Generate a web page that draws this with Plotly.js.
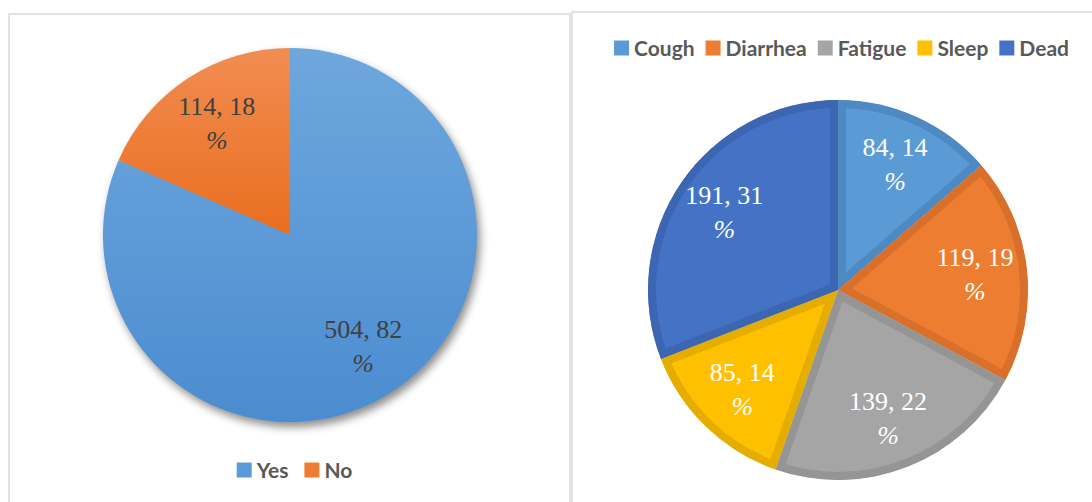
<!DOCTYPE html>
<html>
<head>
<meta charset="utf-8">
<script src="https://cdn.plot.ly/plotly-3.0.1.min.js"></script>
<style>
  html, body { margin: 0; padding: 0; background: #ffffff; overflow: hidden; }
  #chart { width: 1092px; height: 502px; }
</style>
</head>
<body>
<div id="chart"></div>
<script>
// ---- data ----
const leftLabels = ["Yes", "No"];
const leftValues = [504, 114];
const leftColors = ["#5b9bd7", "#ef7d31"];

const rightLabels = ["Cough", "Diarrhea", "Fatigue", "Sleep", "Dead"];
const rightValues = [84, 119, 139, 85, 191];
const rightColors = ["#5b9bd5", "#ed7d31", "#a5a5a5", "#ffc000", "#4472c4"];
const rightBorders = ["#4f89c1", "#d8702b", "#959595", "#e5ad00", "#3c66b1"];

function pct(vals) {
  const s = vals.reduce((a, b) => a + b, 0);
  return vals.map(v => Math.round(v / s * 100));
}

const labelFont = "Liberation Serif, Times New Roman, serif";
const legendFont = "Lato, Open Sans, sans-serif";
const leftDomain = { x: [0.0943, 0.4368], y: [0.1594, 0.9044] };
const rightDomain = { x: [0.5934, 0.9414], y: [0.0438, 0.8008] };
const tmpl = "%{value}, %{customdata}<br><i>%</i>";

const common = { type: "pie", sort: false, direction: "clockwise", rotation: 0, hoverinfo: "none" };

const traces = [
  Object.assign({}, common, {
    labels: leftLabels, values: leftValues,
    textposition: "none",
    marker: { colors: leftColors, line: { width: 0 } },
    domain: leftDomain, legend: "legend"
  }),
  Object.assign({}, common, {
    labels: rightLabels, values: rightValues,
    textposition: "none",
    marker: { colors: rightColors, line: { width: 8, color: rightBorders } },
    domain: rightDomain, legend: "legend2"
  }),
  // label layers (transparent ring so labels sit at ~3/4 of the radius)
  Object.assign({}, common, {
    labels: leftLabels, values: leftValues, customdata: pct(leftValues),
    texttemplate: tmpl, textposition: "inside", insidetextorientation: "horizontal",
    textfont: { family: labelFont, size: 26, color: "#404040" },
    marker: { colors: leftLabels.map(() => "rgba(0,0,0,0)"), line: { width: 0 } },
    hole: 0.43, showlegend: false, domain: leftDomain
  }),
  Object.assign({}, common, {
    labels: rightLabels, values: rightValues, customdata: pct(rightValues),
    texttemplate: tmpl, textposition: "inside", insidetextorientation: "horizontal",
    textfont: { family: labelFont, size: 26, color: "#ffffff" },
    marker: { colors: rightLabels.map(() => "rgba(0,0,0,0)"), line: { width: 0 } },
    hole: 0.45, showlegend: false, domain: rightDomain
  })
];

const legendStyle = { family: legendFont, size: 21, color: "#595959", weight: "bold" };

const layout = {
  width: 1092,
  height: 502,
  margin: { l: 0, r: 0, t: 0, b: 0, autoexpand: false },
  paper_bgcolor: "#ffffff",
  plot_bgcolor: "#ffffff",
  showlegend: true,
  legend: {
    orientation: "h", x: 0.2697, xanchor: "center", y: 0.0637, yanchor: "middle",
    font: legendStyle, itemwidth: 30, bgcolor: "rgba(0,0,0,0)"
  },
  legend2: {
    orientation: "h", x: 0.7706, xanchor: "center", y: 0.904, yanchor: "middle",
    font: legendStyle, itemwidth: 30, bgcolor: "rgba(0,0,0,0)"
  },
  shapes: [
    { type: "rect", xref: "paper", yref: "paper",
      x0: 9 / 1092, x1: 570 / 1092, y0: -0.02, y1: (502 - 14) / 502,
      line: { color: "#d9d9d9", width: 1.5 }, fillcolor: "rgba(0,0,0,0)" },
    { type: "rect", xref: "paper", yref: "paper",
      x0: 572 / 1092, x1: 1.02, y0: -0.02, y1: (502 - 12) / 502,
      line: { color: "#d9d9d9", width: 1.5 }, fillcolor: "rgba(0,0,0,0)" }
  ]
};

const NS = "http://www.w3.org/2000/svg";

function mainText(it) {
  const ts = Array.from(it.querySelectorAll("text"));
  return ts.find(t => (t.textContent || "").trim() !== "") || null;
}

function textWidth(txt) {
  let L = 0;
  try { L = txt.getComputedTextLength(); } catch (e) {}
  if (!L) { try { L = txt.getBBox().width; } catch (e) {} }
  if (!L) { try { L = txt.getBoundingClientRect().width; } catch (e) {} }
  if (!L) {
    const c = document.createElement("canvas").getContext("2d");
    c.font = "bold 21px Lato, Open Sans, sans-serif";
    L = c.measureText(txt.textContent || "").width;
  }
  return L;
}

// Re-space Plotly's own legend items to the tighter spacing of the reference.
function tidyItems(items, centerX, centerY, symGap, itemGap, half) {
  if (!items.length) return;
  items.forEach(it => {
    let p = it.parentNode;
    while (p && p.tagName && p.tagName.toLowerCase() !== "svg") {
      if (p.hasAttribute && p.hasAttribute("clip-path")) p.removeAttribute("clip-path");
      p = p.parentNode;
    }
  });
  const widths = [];
  let total = 0;
  items.forEach((it, i) => {
    const txt = mainText(it);
    const sym = it.querySelector("path.legendpie");
    const L = txt ? textWidth(txt) : 0;
    if (sym) {
      sym.setAttribute("d", `M${half},${half}H${-half}V${-half}H${half}Z`);
      sym.style.strokeWidth = "0px";
    }
    const tx = 20 + half + symGap;
    it.querySelectorAll("text").forEach(t => {
      t.setAttribute("x", tx);
      t.querySelectorAll("tspan").forEach(s => { if (s.hasAttribute("x")) s.setAttribute("x", tx); });
    });
    const w = 2 * half + symGap + L;
    widths.push(w);
    total += w + (i < items.length - 1 ? itemGap : 0);
  });
  let left = centerX - total / 2;
  items.forEach((it, i) => {
    it.setAttribute("transform", "translate(0,0)");
    const sym = it.querySelector("path.legendpie");
    if (!sym) return;
    const r = sym.getBoundingClientRect();
    const cx = r.left + r.width / 2, cy = r.top + r.height / 2;
    it.setAttribute("transform", `translate(${left + half - cx},${centerY - cy})`);
    left += widths[i] + itemGap;
  });
}

function addGradient(defs, id, top, bottom) {
  if (document.getElementById(id)) return;
  const g = document.createElementNS(NS, "linearGradient");
  g.setAttribute("id", id);
  g.setAttribute("x1", "0"); g.setAttribute("y1", "0");
  g.setAttribute("x2", "0"); g.setAttribute("y2", "1");
  [[0, top], [1, bottom]].forEach(([o, c]) => {
    const st = document.createElementNS(NS, "stop");
    st.setAttribute("offset", o); st.setAttribute("stop-color", c);
    g.appendChild(st);
  });
  defs.appendChild(g);
}

function decorate() {
  const svg = document.querySelector(".main-svg");
  let defs = svg.querySelector("defs");
  if (!defs) { defs = document.createElementNS(NS, "defs"); svg.insertBefore(defs, svg.firstChild); }
  addGradient(defs, "gradYes", "#6ea7dd", "#4b8cd0");
  addGradient(defs, "gradNo", "#f18d52", "#e96e1e");

  const tr = document.querySelectorAll(".pielayer .trace");
  if (tr.length >= 2) {
    const lp = tr[0].querySelectorAll("path.surface");
    if (lp[0]) lp[0].style.fill = "url(#gradYes)";
    if (lp[1]) lp[1].style.fill = "url(#gradNo)";
    tr[0].style.filter = "drop-shadow(3px 5px 4px rgba(0,0,0,0.45))";
    tr[1].querySelectorAll("path.surface").forEach((p, i) => {
      const id = "sliceclip" + i;
      let cp = document.getElementById(id);
      if (!cp) {
        cp = document.createElementNS(NS, "clipPath");
        cp.setAttribute("id", id);
        cp.appendChild(document.createElementNS(NS, "path"));
        defs.appendChild(cp);
      }
      cp.firstChild.setAttribute("d", p.getAttribute("d"));
      p.setAttribute("clip-path", "url(#" + id + ")");
      p.style.strokeWidth = "16px";
    });
  }
  const all = Array.from(document.querySelectorAll("g.traces")).filter(it => it.querySelector("path.legendpie"));
  const labelOf = it => {
    const d = it.__data__;
    if (d && d[0] && d[0].label !== undefined) return String(d[0].label);
    const t = mainText(it);
    return t ? t.textContent.trim() : "";
  };
  const leftItems = leftLabels.map(l => all.find(it => labelOf(it) === l)).filter(Boolean);
  const rightItems = rightLabels.map(l => all.find(it => labelOf(it) === l)).filter(Boolean);
  tidyItems(leftItems, 294.5, 470, 5, 16, 7.5);
  tidyItems(rightItems, 841.5, 48, 5, 11, 7.5);
}

Plotly.newPlot("chart", traces, layout, { displayModeBar: false, staticPlot: true }).then(() => {
  decorate();
  requestAnimationFrame(() => decorate());
  setTimeout(decorate, 150);
});
</script>
</body>
</html>
